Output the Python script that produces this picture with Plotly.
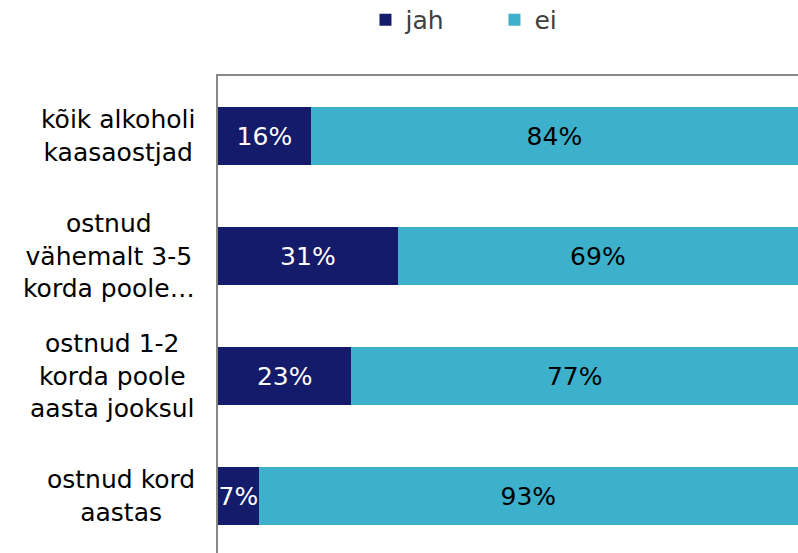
import plotly.graph_objects as go

categories = ["kõik alkoholi<br>kaasaostjad",
              "ostnud<br>vähemalt 3-5<br>korda poole…",
              "ostnud 1-2<br>korda poole<br>aasta jooksul",
              "ostnud kord<br>aastas"]
jah = [16, 31, 23, 7]
ei = [84, 69, 77, 93]
series_names = ["jah", "ei"]

NAVY = "#141B6A"
CYAN = "#3DB0CC"
FONT = "DejaVu Sans, Verdana, sans-serif"
FS = 25

fig = go.Figure()
fig.add_trace(go.Bar(
    y=categories, x=jah, name=series_names[0], orientation="h",
    marker=dict(color=NAVY, line=dict(width=0)),
    text=[f"{v}%" for v in jah], textposition="inside", textangle=0,
    insidetextanchor="middle", constraintext="none",
    textfont=dict(color="white", size=FS, family=FONT),
))
fig.add_trace(go.Bar(
    y=categories, x=ei, name=series_names[1], orientation="h",
    marker=dict(color=CYAN, line=dict(width=0)),
    text=[f"{v}%" for v in ei], textposition="inside", textangle=0,
    insidetextanchor="middle", constraintext="none",
    textfont=dict(color="black", size=FS, family=FONT),
))

for c in categories:
    fig.add_annotation(
        x=0, xref="paper", y=c, yref="y", text=c, showarrow=False,
        xanchor="right", xshift=-21, align="center",
        font=dict(size=FS, color="black", family=FONT),
    )

fig.update_layout(
    width=798, height=553,
    barmode="stack", bargap=0.51,
    margin=dict(l=218, r=0, t=76, b=0, autoexpand=False),
    plot_bgcolor="white", paper_bgcolor="white",
    font=dict(family=FONT, size=FS, color="#404040"),
    showlegend=True,
    legend=dict(orientation="h", x=0.458, xanchor="left", xref="container",
                y=0.964, yanchor="middle", yref="container",
                entrywidth=84, entrywidthmode="pixels",
                font=dict(size=FS, color="#404040", family=FONT),
                itemwidth=30, traceorder="normal"),
    xaxis=dict(range=[0, 100], showgrid=False, zeroline=False, showticklabels=False,
               ticks="", showline=True, side="top", linecolor="#888888", linewidth=2,
               fixedrange=True),
    yaxis=dict(type="category", range=[3.475, -0.5], showgrid=False, zeroline=False,
               showticklabels=False, ticks="", showline=True, linecolor="#888888",
               linewidth=2, fixedrange=True),
    hovermode=False,
)

fig.write_html("out.html", config={"displayModeBar": False, "staticPlot": True},
               post_script="document.body.style.margin='0';document.body.style.overflow='hidden';")
